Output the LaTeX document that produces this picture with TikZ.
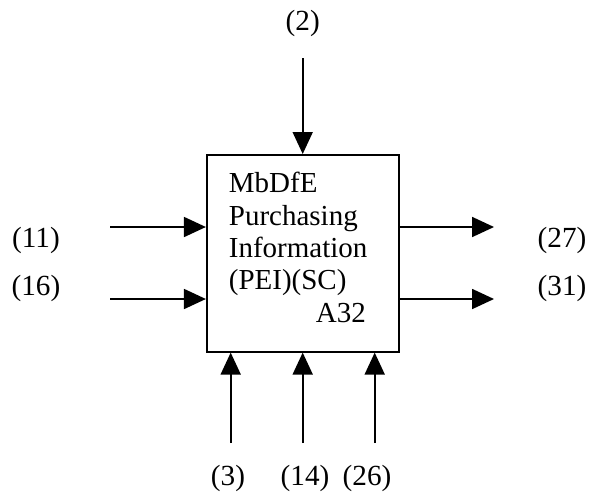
\documentclass[tikz,border=0pt]{standalone}
\usepackage{fontspec}
\setmainfont{Liberation Serif}
\usepackage{tikz}
\usetikzlibrary{arrows.meta,positioning}
\tikzset{lbl/.style={font=\fontsize{14.6}{17}\selectfont,inner sep=0pt}}
\tikzstyle{func}=[draw, minimum width=96.2pt, minimum height=98.4pt, inner sep=0pt]

\begin{document}
\begin{tikzpicture}[x=0.5pt,y=0.5pt,node distance=17.5pt,line width=0.9pt,>={Triangle[length=11pt,width=10pt]}]
    \useasboundingbox (0,0) rectangle (594,-499);
    \node [func] (a) at (303,-253.3) {};
    \node [anchor=base west,align=left,inner sep=0pt,font=\fontsize{14.5}{16.15}\selectfont] (t) at (228,-322)
        {MbDfE\\Purchasing\\Information\\(PEI)(SC)\\\hspace*{43.5pt}A32};
    % control from above
    \coordinate (c2) at (302.7,-58);
    \node [lbl] (l2) [above of=c2] {(2)};
    % inputs
    \coordinate (i11) at (110,-227);
    \coordinate (i16) at (110,-299);
    \node [lbl] (l11) at (36,-240) {(11)};
    \node [lbl] (l16) at (36,-288) {(16)};
    % outputs
    \coordinate (o27) at (494,-227);
    \coordinate (o31) at (494,-299);
    \node [lbl] (l27) at (562,-240) {(27)};
    \node [lbl] (l31) at (562,-288) {(31)};
    % mechanisms
    \coordinate (m3) at (230.7,-443);
    \coordinate (m14) at (302.7,-443);
    \coordinate (m26) at (374.7,-443);
    \node [lbl] (l3) at (228,-478) {(3)};
    \node [lbl] (l14) at (305,-478) {(14)};
    \node [lbl] (l26) at (367,-478) {(26)};
    \path[->] (c2) edge node {} (c2 |- a.north);
    \path[->] (i11) edge node {} (i11 -| a.west);
    \path[->] (i16) edge node {} (i16 -| a.west);
    \path[->] (o27 -| a.east) edge node {} (o27);
    \path[->] (o31 -| a.east) edge node {} (o31);
    \path[->] (m3) edge node {} (m3 |- a.south);
    \path[->] (m14) edge node {} (m14 |- a.south);
    \path[->] (m26) edge node {} (m26 |- a.south);
\end{tikzpicture}
\end{document}
